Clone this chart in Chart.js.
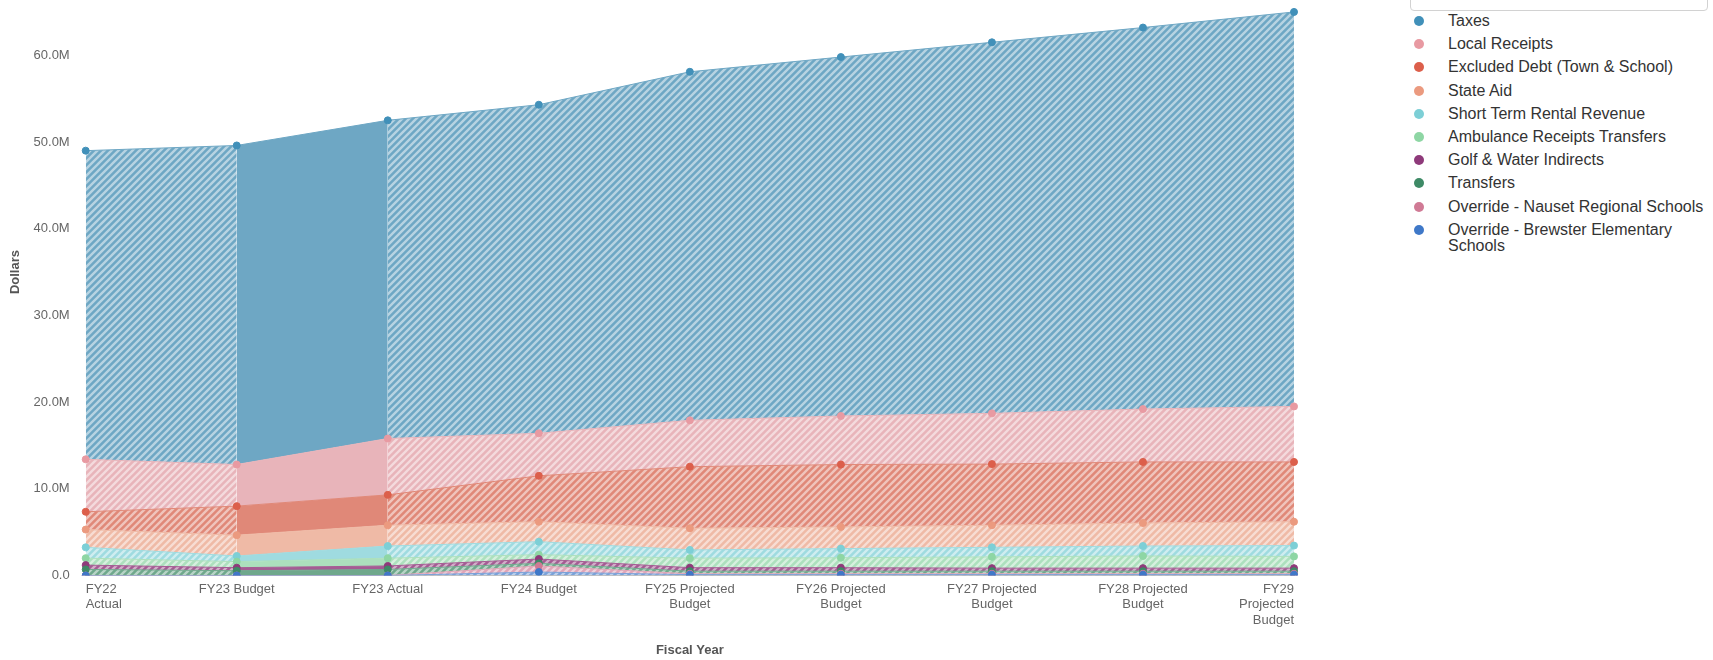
<!DOCTYPE html>
<html>
<head>
<meta charset="utf-8">
<script src="https://cdn.jsdelivr.net/npm/chart.js@4.4.1/dist/chart.umd.min.js"></script>
<style>
  html, body { margin: 0; padding: 0; background: #fff; overflow: hidden; width: 1713px; height: 660px; }
  #wrap { position: absolute; left: 0; top: -60px; width: 1300px; height: 726px; }
  #caixa { position: absolute; left: 1410px; top: -30px; width: 296px; height: 39px; border: 1px solid #d2d2d2; border-radius: 4px; }
  #legenda { position: absolute; left: 1413px; top: 13px; margin: 0; padding: 0; list-style: none;
             font: 16px 'Liberation Sans', Arial, sans-serif; color: #333; }
  #legenda li { position: relative; padding-left: 35px; width: 262px; line-height: 16px; margin-bottom: 7.2px; }
  #legenda li span { position: absolute; left: 1px; top: 3px; width: 10px; height: 10px; border-radius: 50%; }
</style>
</head>
<body>
<div id="wrap"><canvas id="grafico"></canvas></div>
<div id="caixa"></div>
<ul id="legenda"></ul>
<script>
/* =========================================================
   DADOS (milhões de dólares)
========================================================= */
const anos = [
  ['FY22', 'Actual'], 'FY23 Budget', 'FY23 Actual', 'FY24 Budget',
  ['FY25 Projected', 'Budget'], ['FY26 Projected', 'Budget'],
  ['FY27 Projected', 'Budget'], ['FY28 Projected', 'Budget'],
  ['FY29', 'Projected', 'Budget']
];

const taxes         = [35.6, 36.8, 36.7, 37.9, 40.2, 41.4, 42.8, 44.0, 45.5];
const localReceipts = [6.05, 4.8, 6.5, 4.9, 5.35, 5.6, 5.85, 6.1, 6.4];
const excludedDebt  = [2.05, 3.35, 3.5, 5.3, 7.1, 7.2, 7.05, 7.05, 6.9];
const stateAid      = [2.05, 2.4, 2.4, 2.3, 2.5, 2.5, 2.55, 2.65, 2.75];
const shortTerm     = [1.25, 0.65, 1.4, 1.5, 0.95, 1.05, 1.1, 1.15, 1.25];
const ambulance     = [0.8, 0.7, 0.9, 0.5, 1.1, 1.15, 1.3, 1.4, 1.35];
const golfWater     = [0.5, 0.35, 0.4, 0.5, 0.4, 0.4, 0.35, 0.35, 0.35];
const transfers     = [0.7, 0.55, 0.7, 0.3, 0.3, 0.3, 0.3, 0.3, 0.3];
const nauset        = [0, 0, 0, 0.7, 0.1, 0.1, 0.1, 0.1, 0.1];
const brewster      = [0, 0, 0, 0.4, 0.1, 0.1, 0.1, 0.1, 0.1];

const yTicks = [0, 10, 20, 30, 40, 50, 60, 70];

// ordem de empilhamento: de baixo para cima
const series = [
  { nome: 'Override - Brewster Elementary Schools', valores: brewster,      ponto: '#3f78c8', area: '#7aa1d8' },
  { nome: 'Override - Nauset Regional Schools',     valores: nauset,        ponto: '#d07a95', area: '#e0a5b8' },
  { nome: 'Transfers',                              valores: transfers,     ponto: '#3e8a66', area: '#6fa88c' },
  { nome: 'Golf & Water Indirects',                 valores: golfWater,     ponto: '#8e3a7a', area: '#a45c93' },
  { nome: 'Ambulance Receipts Transfers',           valores: ambulance,     ponto: '#8ed6a4', area: '#ace0bd' },
  { nome: 'Short Term Rental Revenue',              valores: shortTerm,     ponto: '#7dcfd6', area: '#9fdbe0' },
  { nome: 'State Aid',                              valores: stateAid,      ponto: '#eb9a7f', area: '#efbaa6' },
  { nome: 'Excluded Debt (Town & School)',          valores: excludedDebt,  ponto: '#dc5f4b', area: '#e08878' },
  { nome: 'Local Receipts',                         valores: localReceipts, ponto: '#e89aa2', area: '#e8b4ba' },
  { nome: 'Taxes',                                  valores: taxes,         ponto: '#4190b9', area: '#6ea7c4' }
];

const ctx = document.getElementById('grafico').getContext('2d');

/* =========================================================
   HACHURA
========================================================= */
function hachura(cor) {
  const t = 7;
  const c = document.createElement('canvas');
  c.width = t; c.height = t;
  const x = c.getContext('2d');
  x.fillStyle = cor;
  x.fillRect(0, 0, t, t);
  x.strokeStyle = 'rgba(255,255,255,0.5)';
  x.lineWidth = 2.4;
  x.beginPath();
  x.moveTo(0, t); x.lineTo(t, 0);
  x.moveTo(-1, 1); x.lineTo(1, -1);
  x.moveTo(t - 1, t + 1); x.lineTo(t + 1, t - 1);
  x.stroke();
  return ctx.createPattern(c, 'repeat');
}

const datasets = series.map((s, i) => {
  const padrao = hachura(s.area);
  return {
    label: s.nome,
    data: s.valores,
    fill: i === 0 ? 'origin' : '-1',
    backgroundColor: padrao,
    borderColor: s.area,
    borderWidth: 1,
    pointRadius: 3.5,
    pointBorderWidth: 1,
    pointBackgroundColor: s.ponto,
    pointBorderColor: s.ponto,
    tension: 0,
    segment: {
      // trecho FY23 Budget -> FY23 Actual sem hachura
      backgroundColor: c => c.p0DataIndex === 1 ? s.area : padrao
    }
  };
});

new Chart(ctx, {
  type: 'line',
  data: { labels: anos, datasets },
  options: {
    responsive: true,
    maintainAspectRatio: false,
    animation: false,
    layout: { padding: { top: 28.6, left: 4, right: 2, bottom: 0 } },
    plugins: {
      legend: { display: false },
      tooltip: { enabled: false }
    },
    scales: {
      x: {
        grid: { display: false, drawTicks: false },
        border: { color: 'rgba(0,0,0,0.25)' },
        ticks: {
          align: 'inner', autoSkip: false, maxRotation: 0,
          padding: 6, color: '#666',
          font: { size: 13, family: "'Liberation Sans', Arial, sans-serif" }
        },
        title: {
          display: true, text: 'Fiscal Year', color: '#555',
          font: { size: 13, weight: 'bold', family: "'Liberation Sans', Arial, sans-serif" },
          padding: { top: 4, bottom: 7.5 }
        },
        afterFit: s => { s.height = 90.5; }
      },
      y: {
        stacked: true,
        min: yTicks[0],
        max: yTicks[yTicks.length - 1],
        grid: { display: false },
        border: { display: false },
        afterBuildTicks: s => { s.ticks = yTicks.map(v => ({ value: v })); },
        ticks: {
          padding: 8, color: '#666',
          font: { size: 13, family: "'Liberation Sans', Arial, sans-serif" },
          callback: v => v === 0 ? '0.0' : v.toFixed(1) + 'M'
        },
        title: {
          display: true, text: 'Dollars', color: '#555',
          font: { size: 13, weight: 'bold', family: "'Liberation Sans', Arial, sans-serif" },
          padding: { top: 4, bottom: 4 }
        },
        afterFit: s => { s.width = 81.7; }
      }
    }
  }
});

/* =========================================================
   LEGENDA
========================================================= */
const ul = document.getElementById('legenda');
[...series].reverse().forEach(s => {
  const li = document.createElement('li');
  const bola = document.createElement('span');
  bola.style.background = s.ponto;
  li.appendChild(bola);
  li.appendChild(document.createTextNode(s.nome));
  ul.appendChild(li);
});
</script>
</body>
</html>
